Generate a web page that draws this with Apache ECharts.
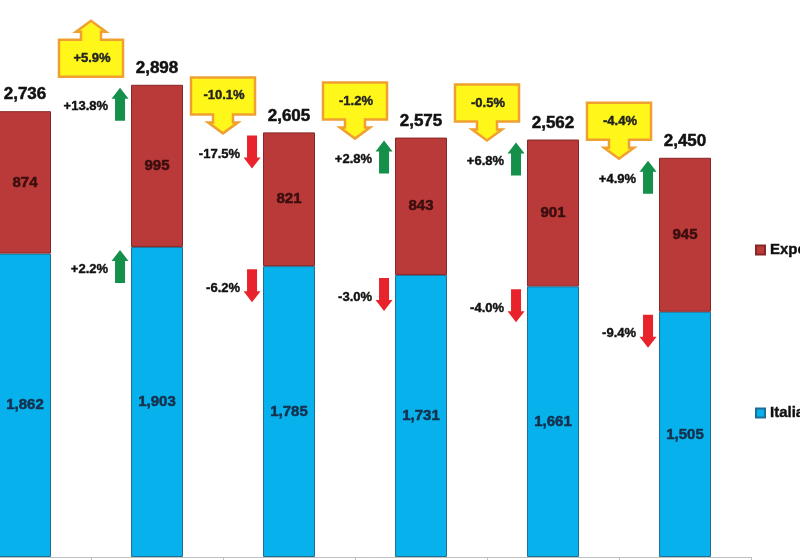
<!DOCTYPE html>
<html>
<head>
<meta charset="utf-8">
<script src="https://cdn.jsdelivr.net/npm/echarts@6/dist/echarts.min.js"></script>
<style>html,body{margin:0;padding:0;background:#fff}#c{width:800px;height:560px}</style>
</head>
<body>
<div id="c"></div>
<script>
const categories = ['2007', '2008', '2009', '2010', '2011', '2012'];
const italia = [1862, 1903, 1785, 1731, 1661, 1505];
const exportV = [874, 995, 821, 843, 901, 945];
const totals = [2736, 2898, 2605, 2575, 2562, 2450];
const exportChange = [null, 13.8, -17.5, 2.8, 6.8, 4.9];
const italiaChange = [null, 2.2, -6.2, -3.0, -4.0, -9.4];
const totalChange = [null, 5.9, -10.1, -1.2, -0.5, -4.4];

const FONT = '"Liberation Sans", Arial, sans-serif';
function fmtNum(v) { return v.toLocaleString('en-US'); }
function fmtPct(v) { return (v > 0 ? '+' : '') + v.toFixed(1) + '%'; }

const changeData = [];
for (let i = 0; i < categories.length; i++) {
  if (exportChange[i] != null) changeData.push([i, italia[i] + exportV[i], exportChange[i]]);
  if (italiaChange[i] != null) changeData.push([i, italia[i], italiaChange[i]]);
}
const calloutData = [];
for (let i = 0; i < categories.length; i++) {
  if (totalChange[i] != null) calloutData.push([i, italia[i] + exportV[i], totalChange[i]]);
}

function renderChange(params, api) {
  const i = api.value(0), v = api.value(1), ch = api.value(2);
  const p = api.coord([i, v]);
  const cw = api.size([1, 0])[0];
  const cx = p[0] - cw * 0.28;
  const y0 = p[1] + 3;
  const L = 33, hh = 11, hw = 8.5, sw = 5;
  const up = ch > 0;
  let pts;
  if (up) {
    pts = [[cx, y0], [cx + hw, y0 + hh], [cx + sw, y0 + hh], [cx + sw, y0 + L], [cx - sw, y0 + L], [cx - sw, y0 + hh], [cx - hw, y0 + hh]];
  } else {
    pts = [[cx - sw, y0], [cx + sw, y0], [cx + sw, y0 + L - hh], [cx + hw, y0 + L - hh], [cx, y0 + L], [cx - hw, y0 + L - hh], [cx - sw, y0 + L - hh]];
  }
  return {
    type: 'group',
    children: [
      { type: 'polygon', shape: { points: pts }, style: { fill: up ? '#14904A' : '#E8232B' } },
      { type: 'text', style: { text: fmtPct(ch), x: cx - 12, y: y0 + 19, align: 'right', verticalAlign: 'middle', font: 'bold 13px ' + FONT, fill: '#111', stroke: '#111', lineWidth: 0.4 } }
    ]
  };
}

function renderCallout(params, api) {
  const i = api.value(0), v = api.value(1), ch = api.value(2);
  const p = api.coord([i, v]);
  const cw = api.size([1, 0])[0];
  const cx = p[0] - cw / 2;
  const W = 64, H = 37, A = 19, sh = 10, hhw = 15, sl = 8;
  const Lx = cx - W / 2, Rx = cx + W / 2;
  let pts, T, B;
  if (ch < 0) {
    const tip = p[1] + 1;
    B = tip - A; T = B - H;
    pts = [[Lx, T], [Rx, T], [Rx, B], [cx + sh, B], [cx + sh, B + sl], [cx + hhw, B + sl], [cx, tip], [cx - hhw, B + sl], [cx - sh, B + sl], [cx - sh, B], [Lx, B]];
  } else {
    B = p[1] - 8; T = B - H;
    const tip = T - A;
    pts = [[Lx, B], [Lx, T], [cx - sh, T], [cx - sh, T - sl], [cx - hhw, T - sl], [cx, tip], [cx + hhw, T - sl], [cx + sh, T - sl], [cx + sh, T], [Rx, T], [Rx, B]];
  }
  return {
    type: 'group',
    children: [
      { type: 'polygon', shape: { points: pts }, style: { fill: '#FFF71A', stroke: '#F0A030', lineWidth: 2.5, lineJoin: 'miter' } },
      { type: 'text', style: { text: fmtPct(ch), x: cx + 1, y: (T + B) / 2, align: 'center', verticalAlign: 'middle', font: 'bold 13px ' + FONT, fill: '#222', stroke: '#222', lineWidth: 0.4 } }
    ]
  };
}

const chart = echarts.init(document.getElementById('c'), null, { renderer: 'canvas' });
chart.setOption({
  animation: false,
  backgroundColor: '#ffffff',
  textStyle: { fontFamily: FONT },
  grid: { left: -41, right: 49, top: 3, bottom: 3, containLabel: false, outerBoundsMode: 'none' },
  legend: {
    data: ['Export', 'Italia'],
    orient: 'vertical',
    left: 750,
    top: 236,
    itemWidth: 9,
    itemHeight: 9,
    itemGap: 145,
    icon: 'rect',
    textStyle: { fontFamily: FONT, fontWeight: 'bold', fontSize: 15, color: '#111', lineHeight: 18, textBorderColor: '#111', textBorderWidth: 0.4 }
  },
  xAxis: {
    type: 'category',
    data: categories,
    axisLine: { lineStyle: { color: '#BFBFBF', width: 1 } },
    axisTick: { show: true, length: 6, lineStyle: { color: '#BFBFBF' } },
    axisLabel: { show: false },
    splitLine: { show: false }
  },
  yAxis: {
    type: 'value',
    min: 0,
    max: 3400,
    show: false,
    splitLine: { show: false }
  },
  series: [
    {
      name: 'Italia',
      type: 'bar',
      stack: 'tot',
      barWidth: '39.4%',
      data: italia,
      itemStyle: { color: '#06B1EC', borderColor: '#1F6F95', borderWidth: 1 },
      label: { show: true, position: 'inside', formatter: p => fmtNum(p.value), fontFamily: FONT, fontWeight: 'bold', fontSize: 15, color: '#15304C', textBorderColor: '#15304C', textBorderWidth: 0.5 }
    },
    {
      name: 'Export',
      type: 'bar',
      stack: 'tot',
      barWidth: '39.4%',
      data: exportV,
      itemStyle: { color: '#BA3A3A', borderColor: '#862626', borderWidth: 1 },
      label: { show: true, position: 'inside', formatter: p => fmtNum(p.value), fontFamily: FONT, fontWeight: 'bold', fontSize: 15, color: '#3A0E0E', textBorderColor: '#3A0E0E', textBorderWidth: 0.5 }
    },
    {
      name: 'totals',
      type: 'bar',
      stack: 'tot',
      barWidth: '39.4%',
      data: totals.map(() => 0),
      itemStyle: { color: 'transparent' },
      label: { show: true, position: 'top', distance: 8, formatter: p => fmtNum(totals[p.dataIndex]), fontFamily: FONT, fontWeight: 'bold', fontSize: 17, color: '#111', textBorderColor: '#111', textBorderWidth: 0.5 },
      silent: true
    },
    {
      name: 'changes',
      type: 'custom',
      coordinateSystem: 'cartesian2d',
      renderItem: renderChange,
      encode: { x: 0, y: 1 },
      data: changeData,
      z: 5,
      clip: false
    },
    {
      name: 'callouts',
      type: 'custom',
      coordinateSystem: 'cartesian2d',
      renderItem: renderCallout,
      encode: { x: 0, y: 1 },
      data: calloutData,
      z: 6,
      clip: false
    }
  ]
});
</script>
</body>
</html>
